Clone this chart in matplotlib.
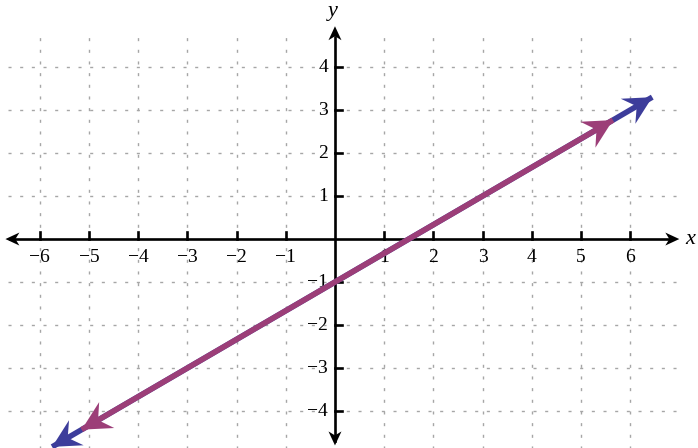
import numpy as np
import matplotlib.pyplot as plt
from matplotlib.patches import Polygon

# line y = m x + b
slope = 2 / 3
intercept = -1.0
blue_x = [-5.75, 6.45]      # outer segment (blue arrow tips)
magenta_x = [-5.15, 5.65]   # inner segment (magenta arrow tips)

x_ticks = [-6, -5, -4, -3, -2, -1, 1, 2, 3, 4, 5, 6]
y_ticks = [-4, -3, -2, -1, 1, 2, 3, 4]
x_lim = (-6.81, 7.38)
y_lim = (-4.86, 5.56)

blue = "#3d3d9b"
magenta = "#9c3e78"

plt.rcParams['font.family'] = ['Liberation Serif', 'DejaVu Serif']

fig = plt.figure(figsize=(6.98, 4.48), dpi=100)
ax = fig.add_axes([0, 0, 1, 1])
ax.set_xlim(*x_lim)
ax.set_ylim(*y_lim)
ax.axis('off')


def head(ax, tip, direction, length, width, notch, color, z):
    """stealth style arrow head, sizes in pixels"""
    to_disp = ax.transData
    t = to_disp.transform(tip)
    d = to_disp.transform(np.array(tip) + np.array(direction)) - t
    d = d / np.hypot(*d)
    n = np.array([-d[1], d[0]])
    pts = [t,
           t - d * length + n * width / 2,
           t - d * (length - notch),
           t - d * length - n * width / 2]
    pts = to_disp.inverted().transform(np.array(pts))
    ax.add_patch(Polygon(pts, closed=True, color=color, lw=0, zorder=z))


# dotted grid
dash = (0, (2.2, 6.2))
ax.vlines(x_ticks, -4.9, 4.75, colors="#a6a6a6", linestyles=dash, lw=1.0, zorder=1)
ax.hlines(y_ticks, -6.65, 6.95, colors="#a6a6a6", linestyles=dash, lw=1.0, zorder=1)

# axes with arrows
ax.plot([-6.6, 6.85], [0, 0], color='black', lw=1.9, zorder=3)
ax.plot([0, 0], [-4.7, 4.7], color='black', lw=1.9, zorder=3)
head(ax, (-6.7, 0), (-1, 0), 14, 13, 4, 'black', 4)
head(ax, (7.0, 0), (1, 0), 14, 13, 4, 'black', 4)
head(ax, (0, 4.95), (0, 1), 14, 13, 4, 'black', 4)
head(ax, (0, -4.8), (0, -1), 14, 13, 4, 'black', 4)

# ticks and labels
dy = 7 * (y_lim[1] - y_lim[0]) / 448
dx = 7 * (x_lim[1] - x_lim[0]) / 698
for v in x_ticks:
    ax.plot([v, v], [0, dy], color='black', lw=1.9, zorder=3)
    ax.text(v, -0.22, str(v).replace('-', '\u2212'), ha='center', va='top', fontsize=14, zorder=5)
for v in y_ticks:
    ax.plot([0, dx], [v, v], color='black', lw=1.9, zorder=3)
    ax.text(-0.14, v, str(v).replace('-', '\u2212'), ha='right', va='center', fontsize=14, zorder=5)
ax.text(7.12, 0, 'x', style='italic', fontsize=16, ha='left', va='center')
ax.text(-0.05, 5.3, 'y', style='italic', fontsize=16, ha='center', va='center')

# the line
bx = np.array(blue_x)
mx = np.array(magenta_x)
ax.plot(bx, slope * bx + intercept, color=blue, lw=4.0, zorder=6, solid_capstyle='butt')
ax.plot(mx, slope * mx + intercept, color=magenta, lw=4.0, zorder=7, solid_capstyle='butt')
dirv = (1, slope)
for x0, sgn in [(bx[0], -1), (bx[1], 1)]:
    head(ax, (x0, slope * x0 + intercept), (sgn * dirv[0], sgn * dirv[1]), 28, 29, 10, blue, 6.5)
for x0, sgn in [(mx[0], -1), (mx[1], 1)]:
    head(ax, (x0, slope * x0 + intercept), (sgn * dirv[0], sgn * dirv[1]), 29, 30, 10, magenta, 7.5)

fig.savefig('out.png', dpi=100)
